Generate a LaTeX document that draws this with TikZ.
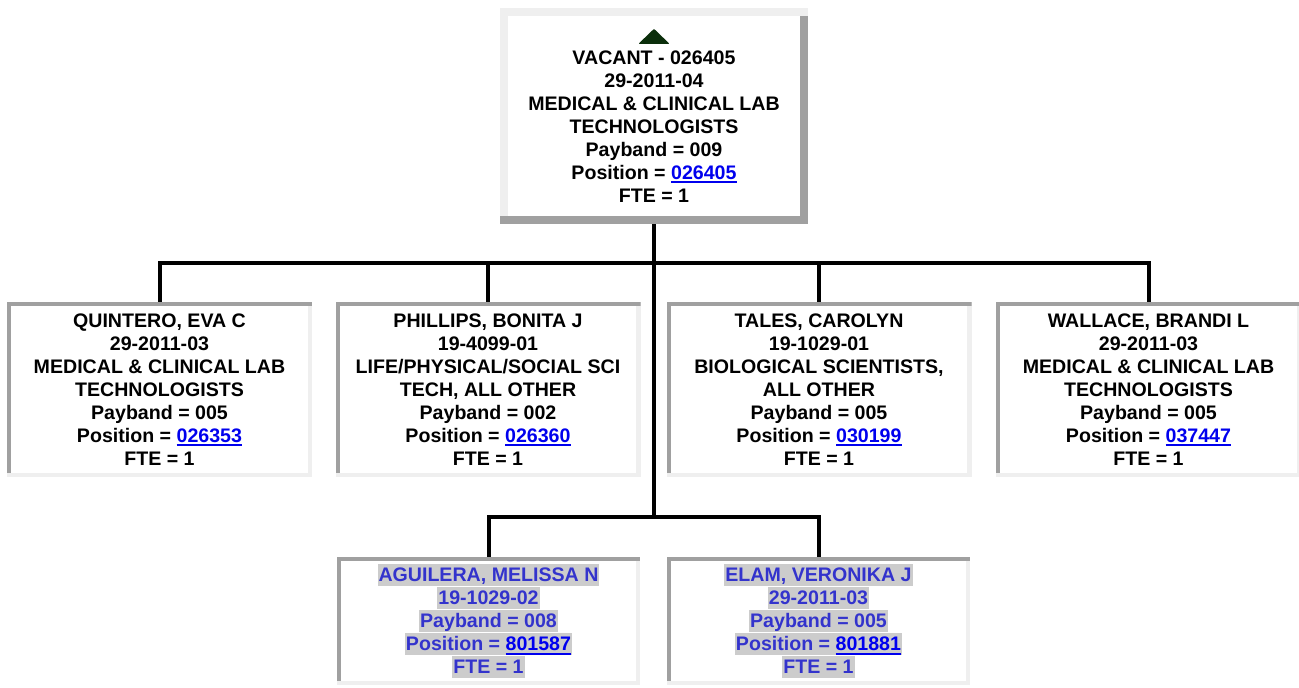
\documentclass[tikz,border=0pt]{standalone}
\usepackage{fontspec}
\setmainfont{Liberation Sans}
\definecolor{edgedark}{HTML}{A0A0A0}
\definecolor{edgelight}{HTML}{EFEFEF}
\definecolor{hlgray}{HTML}{CCCCCC}
\definecolor{vacblue}{HTML}{3333CC}
\definecolor{linkblue}{HTML}{0000EE}
\definecolor{arrowgreen}{HTML}{0B2E0B}
\newcommand\lnk[1]{\textcolor{linkblue}{\setbox0\hbox{#1}\rlap{\rule[-4pt]{\wd0}{1.9pt}}\box0}}
\newcommand\hlrow[1]{{\setlength{\fboxsep}{0pt}\colorbox{hlgray}{\kern1pt\rule[-4.3pt]{0pt}{22pt}#1\kern1pt}}}
\tikzset{
  conn/.style={line width=4pt, black},
  txt/.style={font=\fontsize{19.6}{23}\selectfont\bfseries, align=center, inner sep=0pt},
  sunkenbox/.style={txt, fill=edgelight, path picture={
    \fill[edgedark] ([yshift=4.5pt]path picture bounding box.south west) rectangle ([xshift=4pt]path picture bounding box.north west);
    \fill[edgedark] (path picture bounding box.north west) rectangle ([yshift=-3.5pt]path picture bounding box.north east);
    \fill[white] ([xshift=4pt,yshift=-3.5pt]path picture bounding box.north west) rectangle ([xshift=-4.5pt,yshift=4.5pt]path picture bounding box.south east);
  }},
  rowbox/.style={sunkenbox, minimum width=305pt, minimum height=175pt},
  lowbox/.style={sunkenbox, minimum width=303pt, minimum height=128pt, text=vacblue},
  raisedbox/.style={inner sep=0pt, minimum width=308pt, minimum height=216pt, fill=edgedark, path picture={
    \fill[edgelight] ([yshift=8pt]path picture bounding box.south west) rectangle ([xshift=8pt]path picture bounding box.north west);
    \fill[edgelight] (path picture bounding box.north west) rectangle ([yshift=-8pt]path picture bounding box.north east);
    \fill[white] ([xshift=8pt,yshift=-8pt]path picture bounding box.north west) rectangle ([xshift=-8pt,yshift=8pt]path picture bounding box.south east);
  }}
}
\begin{document}
\begin{tikzpicture}[x=1pt,y=-1pt]
\useasboundingbox[fill=white] (0,0) rectangle (1299,688);

% top box
\node[raisedbox] (top) at (654,116) {};
\fill[arrowgreen, rounded corners=0.8pt, shift={(top.north)}] (0,21) -- (-15.5,36) -- (15.5,36) -- cycle;
\node[txt] (toptext) at (654,126.5) {VACANT - 026405\\29-2011-04\\MEDICAL \& CLINICAL LAB\\TECHNOLOGISTS\\Payband = 009\\Position = \lnk{026405}\\FTE = 1};

% second row
\node[rowbox] (b1) at (159.5,389.5) {QUINTERO, EVA C\\29-2011-03\\MEDICAL \& CLINICAL LAB\\TECHNOLOGISTS\\Payband = 005\\Position = \lnk{026353}\\FTE = 1};
\node[rowbox] (b2) at (488,389.5) {PHILLIPS, BONITA J\\19-4099-01\\LIFE/PHYSICAL/SOCIAL SCI\\TECH, ALL OTHER\\Payband = 002\\Position = \lnk{026360}\\FTE = 1};
\node[rowbox] (b3) at (819,389.5) {TALES, CAROLYN\\19-1029-01\\BIOLOGICAL SCIENTISTS,\\ALL OTHER\\Payband = 005\\Position = \lnk{030199}\\FTE = 1};
\node[rowbox] (b4) at (1148.5,389.5) {WALLACE, BRANDI L\\29-2011-03\\MEDICAL \& CLINICAL LAB\\TECHNOLOGISTS\\Payband = 005\\Position = \lnk{037447}\\FTE = 1};

% third row
\node[lowbox] (b5) at (488.5,621) {\hlrow{AGUILERA, MELISSA N}\\\hlrow{19-1029-02}\\\hlrow{Payband = 008}\\\hlrow{Position = \lnk{801587}}\\\hlrow{FTE = 1}};
\node[lowbox] (b6) at (818.5,621) {\hlrow{ELAM, VERONIKA J}\\\hlrow{29-2011-03}\\\hlrow{Payband = 005}\\\hlrow{Position = \lnk{801881}}\\\hlrow{FTE = 1}};

% connectors
\coordinate (bar1) at (654,263);
\coordinate (bar2) at (654,517);
\draw[conn] (top.south) -- (bar2);
\draw[conn] (b1.north) |- (bar1) -| (b4.north);
\draw[conn] (bar1 -| b2.north) -- (b2.north);
\draw[conn] (bar1 -| b3.north) -- (b3.north);
\draw[conn] (b5.north) |- (bar2) -| (b6.north);
\end{tikzpicture}
\end{document}
